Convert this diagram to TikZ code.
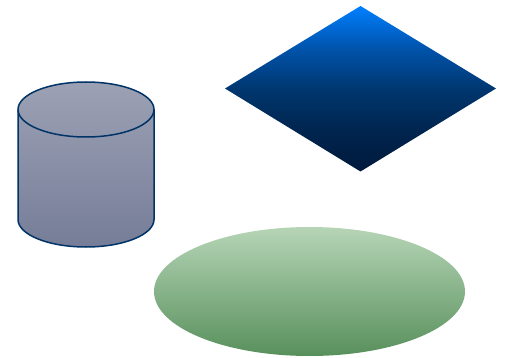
\documentclass[tikz,border=0pt]{standalone}
\pgfdeclareverticalshading{diashade}{100bp}{%
  rgb(0bp)=(0,0.098,0.235);
  rgb(25bp)=(0,0.098,0.235);
  rgb(37.5bp)=(0,0.145,0.31);
  rgb(50bp)=(0,0.215,0.435);
  rgb(62.5bp)=(0,0.33,0.68);
  rgb(75bp)=(0,0.5,1);
  rgb(100bp)=(0,0.5,1)}
\begin{document}
\begin{tikzpicture}[x=1pt,y=-1pt]
\definecolor{cyltop}{HTML}{9CA1B4}
\definecolor{cylbot}{HTML}{767D98}
\definecolor{cylline}{HTML}{003366}
\definecolor{elltop}{HTML}{B6D5B6}
\definecolor{ellbot}{HTML}{58905C}
\tikzset{
  cylstyle/.style={draw=cylline, line width=1.5pt, top color=cyltop, bottom color=cylbot},
  diastyle/.style={shading=diashade},
  ellstyle/.style={top color=elltop, bottom color=ellbot},
}
\useasboundingbox (0,0) rectangle (506,358);
% cylinder
\path[cylstyle] (18,109.5) -- (18,219.5) arc[start angle=180, end angle=360, x radius=68, y radius=-27.5] -- (154,109.5) arc[start angle=0, end angle=180, x radius=68, y radius=-27.5] -- cycle;
\draw[cylline, line width=1.5pt] (18,109.5) arc[start angle=180, end angle=360, x radius=68, y radius=-27.5];
\coordinate (cyl) at (86,164);
% diamond
\path[diastyle] (360.5,6) -- (496,88.5) -- (360.5,171.5) -- (225,88.5) -- cycle;
\coordinate (dia) at (360.5,88.5);
% ellipse
\path[ellstyle] (309.5,291.5) ellipse[x radius=155.5, y radius=64.5];
\coordinate (ell) at (309.5,291.5);
\end{tikzpicture}
\end{document}
